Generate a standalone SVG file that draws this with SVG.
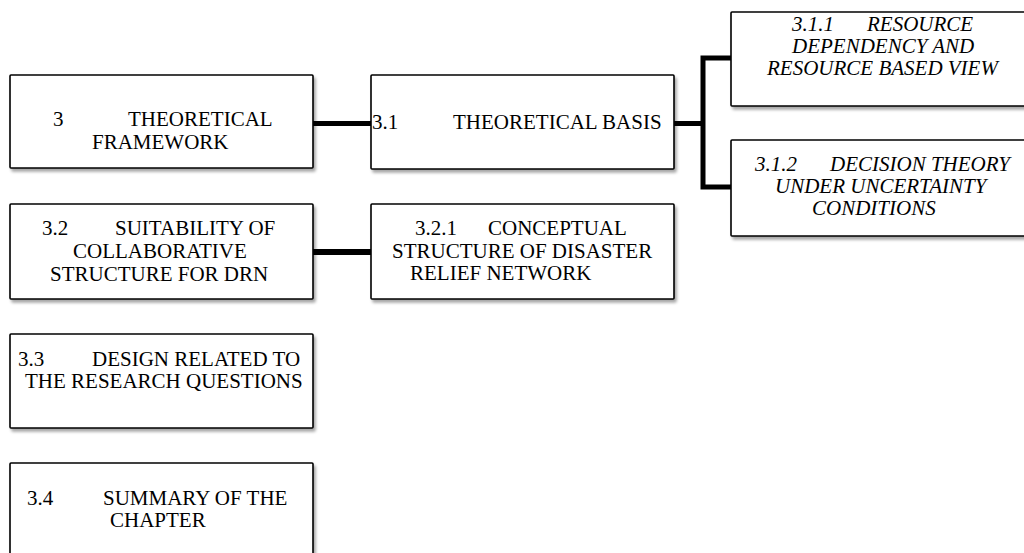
<svg xmlns="http://www.w3.org/2000/svg" width="1024" height="553" viewBox="0 0 1024 553">
  <style>
    .box { fill: #ffffff; stroke: #000000; stroke-width: 1.6; filter: url(#shadow); }
    .lbl { font-family: 'Liberation Serif', 'Times New Roman', 'DejaVu Serif', serif; font-size: 21px; fill: #000000; }
    .it { font-style: italic; }
    .link { fill: none; stroke: #000000; stroke-width: 5; stroke-linejoin: miter; }
  </style>
  <defs>
    <filter id="shadow" x="-5%" y="-10%" width="115%" height="130%">
      <feGaussianBlur in="SourceAlpha" stdDeviation="1.5"/>
      <feOffset dx="1.5" dy="2.5" result="off"/>
      <feComponentTransfer><feFuncA type="linear" slope="0.35"/></feComponentTransfer>
      <feMerge><feMergeNode/><feMergeNode in="SourceGraphic"/></feMerge>
    </filter>
  </defs>
  <rect width="1024" height="553" fill="#ffffff"/>

  <!-- connectors -->
  <g id="connectors">
    <line class="link" x1="313" y1="123.5" x2="371" y2="123.5"/>
    <line class="link" x1="674" y1="123.5" x2="703" y2="123.5"/>
    <polyline class="link" points="731,58 703,58 703,187 731,187"/>
    <line class="link" x1="313" y1="252" x2="371" y2="252" style="stroke-width:6"/>
  </g>

  <g id="n3">
    <rect class="box" x="10" y="75" width="303" height="93" rx="1"/>
    <text class="lbl" font-family="Liberation Serif, serif"><tspan x="53" y="126">3</tspan><tspan x="128" y="126">THEORETICAL</tspan><tspan x="92" y="149">FRAMEWORK</tspan></text>
  </g>

  <g id="n3_1">
    <rect class="box" x="371" y="75" width="303" height="94" rx="1"/>
    <text class="lbl" font-family="Liberation Serif, serif"><tspan x="372" y="129">3.1</tspan><tspan x="453" y="129">THEORETICAL BASIS</tspan></text>
  </g>

  <g id="n3_1_1">
    <rect class="box" x="731" y="12" width="300" height="94" rx="1"/>
    <text class="lbl it" font-family="Liberation Serif, serif"><tspan x="792" y="31">3.1.1</tspan><tspan x="867" y="31">RESOURCE</tspan><tspan x="792" y="53">DEPENDENCY AND</tspan><tspan x="767" y="75">RESOURCE BASED VIEW</tspan></text>
  </g>

  <g id="n3_1_2">
    <rect class="box" x="731" y="140" width="300" height="96" rx="1"/>
    <text class="lbl it" font-family="Liberation Serif, serif"><tspan x="755" y="171">3.1.2</tspan><tspan x="830" y="171">DECISION THEORY</tspan><tspan x="775" y="193">UNDER UNCERTAINTY</tspan><tspan x="812" y="215">CONDITIONS</tspan></text>
  </g>

  <g id="n3_2">
    <rect class="box" x="10" y="204" width="303" height="95" rx="1"/>
    <text class="lbl" font-family="Liberation Serif, serif"><tspan x="42" y="235">3.2</tspan><tspan x="115" y="235">SUITABILITY OF</tspan><tspan x="73" y="258">COLLABORATIVE</tspan><tspan x="50" y="281">STRUCTURE FOR DRN</tspan></text>
  </g>

  <g id="n3_2_1">
    <rect class="box" x="371" y="204" width="303" height="95" rx="1"/>
    <text class="lbl" font-family="Liberation Serif, serif"><tspan x="415" y="235">3.2.1</tspan><tspan x="488" y="235">CONCEPTUAL</tspan><tspan x="392" y="258">STRUCTURE OF DISASTER</tspan><tspan x="410" y="280">RELIEF NETWORK</tspan></text>
  </g>

  <g id="n3_3">
    <rect class="box" x="10" y="334" width="303" height="94" rx="1"/>
    <text class="lbl" font-family="Liberation Serif, serif"><tspan x="18" y="366">3.3</tspan><tspan x="92" y="366">DESIGN RELATED TO</tspan><tspan x="25" y="388">THE RESEARCH QUESTIONS</tspan></text>
  </g>

  <g id="n3_4">
    <rect class="box" x="10" y="463" width="303" height="100" rx="1"/>
    <text class="lbl" font-family="Liberation Serif, serif"><tspan x="27" y="505">3.4</tspan><tspan x="103" y="505">SUMMARY OF THE</tspan><tspan x="110" y="527">CHAPTER</tspan></text>
  </g>
</svg>
